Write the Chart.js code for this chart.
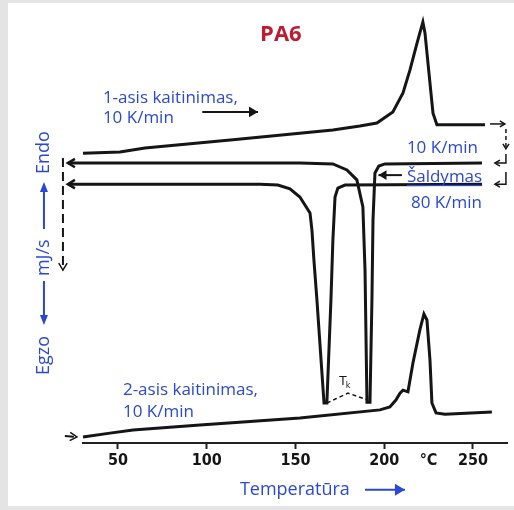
<!DOCTYPE html>
<html>
<head>
<meta charset="utf-8">
<script src="https://cdn.jsdelivr.net/npm/chart.js@4"></script>
<style>
  body { margin: 0; background: #e4e4e4; }
  #frame { position: absolute; left: 8px; top: 3px; width: 506px; height: 503px; background: #fff; }
  canvas { position: absolute; left: 0; top: 0; }
</style>
</head>
<body>
<div id="frame"></div>
<canvas id="dsc" width="514" height="510"></canvas>
<script>
// PA6 DSC run: temperature in °C, heat flow in arbitrary units (endo up)
const heat1T = [30.3, 51.1, 65.2, 114.8, 171.1, 186.3, 195.9, 204.9, 210.6, 214.5, 218.5, 221.8, 223.0, 225.8, 227.5, 229.7, 256.8];
const heat1V = [67.4, 67.7, 68.6, 70.5, 72.8, 73.7, 74.4, 77.0, 81.4, 86.7, 93.0, 97.9, 95.3, 83.7, 76.7, 74.0, 74.0];

// cooling runs are recorded from right to left
const cool10T = [255.1, 200.4, 197.0, 194.8, 193.7, 193.1, 192.0, 190.3, 189.2, 188.0, 184.6, 179.0, 171.1, 152.5, 21.8];
const cool10V = [65.1, 64.9, 64.4, 62.8, 51.9, 33.3, 9.5, 9.5, 40.2, 54.9, 61.2, 63.5, 64.9, 65.1, 65.1];

const cool80T = [255.1, 177.9, 173.9, 172.3, 171.1, 170.0, 167.7, 166.1, 162.1, 160.4, 159.3, 158.2, 152.5, 146.9, 140.1, 130.0, 21.8];
const cool80V = [60.2, 60.0, 59.3, 57.2, 47.2, 33.3, 9.3, 9.3, 33.3, 42.6, 49.5, 53.5, 57.2, 59.1, 60.0, 60.2, 60.2];

const heat2T = [30.3, 45.5, 58.5, 96.2, 152.5, 197.6, 203.2, 206.6, 208.9, 210.6, 213.4, 216.2, 220.1, 222.4, 224.1, 225.8, 226.9, 229.2, 234.2, 260.7];
const heat2V = [1.4, 2.3, 3.0, 4.2, 5.8, 7.7, 8.4, 10.0, 11.6, 12.3, 11.9, 18.6, 26.3, 30.0, 28.6, 19.3, 9.3, 7.0, 6.7, 7.2];

// crystallisation temperature construction (T_k)
const tkT = [167.7, 179.6, 190.8];
const tkV = [9.3, 11.6, 10.0];

const tickValues = [50, 100, 150, 200, 225, 250];

const ink = '#151515';
const blue = '#2a48d8';
const red = '#c01a30';

function pts(ts, vs) {
    return ts.map((t, i) => ({ x: t, y: vs[i] }));
}

function line(data, opts) {
    return Object.assign({
        data: data,
        showLine: true,
        borderColor: ink,
        backgroundColor: ink,
        borderWidth: 3,
        pointRadius: 0,
        tension: 0,
        clip: false
    }, opts || {});
}

const datasets = [
    line(pts(heat1T, heat1V)),
    line(pts(cool10T, cool10V), { arrow: 'open' }),
    line(pts(cool80T, cool80V), { arrow: 'open' }),
    line(pts(heat2T, heat2V)),
    line(pts(tkT, tkV), { borderWidth: 1.5, borderDash: [4, 3] }),
    // dashed return path on the left
    line([{ x: 19.0, y: 66.3 }, { x: 19.0, y: 40.2 }], { borderWidth: 2, borderDash: [9, 5], arrow: 'open' }),
    line([{ x: 19.0, y: 40.2 }, { x: 19.0, y: 3.0 }, { x: 20.1, y: 1.6 }, { x: 26.9, y: 1.4 }], { borderWidth: 2, borderDash: [9, 5], arrow: 'open' }),
    // connectors on the right
    line([{ x: 259.6, y: 74.2 }, { x: 268.0, y: 74.2 }], { borderWidth: 1.5, arrow: 'open', arrowSize: 5 }),
    line([{ x: 268.6, y: 73.0 }, { x: 268.6, y: 68.4 }], { borderWidth: 1.5, borderDash: [4, 3], arrow: 'open', arrowSize: 5 }),
    line([{ x: 268.6, y: 67.2 }, { x: 268.6, y: 65.1 }, { x: 262.4, y: 65.1 }], { borderWidth: 1.5, arrow: 'open', arrowSize: 5 }),
    line([{ x: 268.6, y: 63.0 }, { x: 268.6, y: 60.2 }, { x: 262.4, y: 60.2 }], { borderWidth: 1.5, arrow: 'open', arrowSize: 5 }),
    // pointer arrows next to the notes
    line([{ x: 97.5, y: 77.0 }, { x: 128.9, y: 77.0 }], { borderWidth: 2, arrow: 'filled', arrowSize: 9 }),
    line([{ x: 210.0, y: 62.3 }, { x: 196.8, y: 62.3 }], { borderWidth: 2, arrow: 'filled', arrowSize: 8 }),
    line([{ x: 189.2, y: -10.9 }, { x: 211.7, y: -10.9 }], { borderWidth: 2, borderColor: blue, backgroundColor: blue, arrow: 'filled', arrowSize: 10 })
];

const noteFont = '17px "Open Sans"';
const notes = [
    { text: 'PA6', t: 141.8, v: 94.9, color: red, font: 'bold 22px "Open Sans"', align: 'center' },
    { text: '1-asis kaitinimas,', t: 41.5, v: 80.2, color: blue, font: noteFont },
    { text: '10 K/min', t: 41.5, v: 75.6, color: blue, font: noteFont },
    { text: '10 K/min', t: 212.8, v: 68.6, color: blue, font: noteFont },
    { text: 'Šaldymas', t: 212.8, v: 61.9, color: blue, font: noteFont, underline: true },
    { text: '80 K/min', t: 215.1, v: 55.8, color: blue, font: noteFont },
    { text: '2-asis kaitinimas,', t: 52.8, v: 12.3, color: blue, font: noteFont },
    { text: '10 K/min', t: 52.8, v: 7.2, color: blue, font: noteFont },
    { text: 'Temperatūra', t: 118.7, v: -10.9, color: blue, font: '18px "Open Sans"' }
];

const arrowHeads = {
    id: 'arrowHeads',
    afterDatasetsDraw(chart) {
        const ctx = chart.ctx;
        chart.data.datasets.forEach((ds, i) => {
            if (!ds.arrow) return;
            const els = chart.getDatasetMeta(i).data;
            const a = els[els.length - 2], b = els[els.length - 1];
            const ang = Math.atan2(b.y - a.y, b.x - a.x);
            const len = ds.arrowSize || 7;
            ctx.save();
            ctx.translate(b.x, b.y);
            ctx.rotate(ang);
            ctx.strokeStyle = ds.borderColor;
            ctx.fillStyle = ds.borderColor;
            ctx.lineWidth = Math.max(1.5, ds.borderWidth - 0.5);
            ctx.setLineDash([]);
            ctx.beginPath();
            ctx.moveTo(-len, -len * 0.6);
            ctx.lineTo(0, 0);
            ctx.lineTo(-len, len * 0.6);
            if (ds.arrow === 'filled') {
                ctx.closePath();
                ctx.fill();
            } else {
                ctx.stroke();
            }
            ctx.restore();
        });
    }
};

const noteText = {
    id: 'noteText',
    afterDraw(chart) {
        const ctx = chart.ctx;
        const xs = chart.scales.x, ys = chart.scales.y;
        ctx.save();
        ctx.textBaseline = 'middle';
        notes.forEach(n => {
            const px = xs.getPixelForValue(n.t), py = ys.getPixelForValue(n.v);
            ctx.font = n.font;
            ctx.fillStyle = n.color;
            ctx.textAlign = n.align || 'left';
            ctx.fillText(n.text, px, py);
            if (n.underline) {
                const w = ctx.measureText(n.text).width;
                ctx.fillRect(px, py + 8, w, 1.3);
            }
        });

        // T_k marker
        const kx = xs.getPixelForValue(177.9), ky = ys.getPixelForValue(14.2);
        ctx.fillStyle = ink;
        ctx.textAlign = 'center';
        ctx.font = '12px "DejaVu Sans"';
        ctx.fillText('T', kx - 2, ky);
        ctx.font = '8px "DejaVu Sans"';
        ctx.fillText('k', kx + 3, ky + 4);

        // rotated y-axis caption: Egzo <- mJ/s -> Endo
        const ox = xs.getPixelForValue(8.3), oy = ys.getPixelForValue(15.8);
        ctx.translate(ox, oy);
        ctx.rotate(-Math.PI / 2);
        ctx.fillStyle = blue;
        ctx.strokeStyle = blue;
        ctx.font = '18px "Open Sans"';
        ctx.textAlign = 'left';
        ctx.fillText('Egzo', 0, 0);
        ctx.fillText('mJ/s', 99, 0);
        ctx.fillText('Endo', 201, 0);
        ctx.lineWidth = 2;
        ctx.beginPath();
        ctx.moveTo(58, 0); ctx.lineTo(94, 0);
        ctx.moveTo(146, 0); ctx.lineTo(184, 0);
        ctx.stroke();
        ctx.beginPath();
        ctx.moveTo(50, 0); ctx.lineTo(60, -4); ctx.lineTo(60, 4); ctx.closePath();
        ctx.moveTo(193, 0); ctx.lineTo(183, -4); ctx.lineTo(183, 4); ctx.closePath();
        ctx.fill();
        ctx.restore();
    }
};

new Chart(document.getElementById('dsc').getContext('2d'), {
    type: 'scatter',
    data: { datasets: datasets },
    options: {
        responsive: false,
        animation: false,
        layout: { padding: { left: 83, right: 7, top: 13, bottom: 0 } },
        scales: {
            x: {
                type: 'linear',
                min: 30.3,
                max: 269.2,
                afterFit: s => { s.height = 67; },
                afterBuildTicks: s => { s.ticks = tickValues.map(v => ({ value: v })); },
                ticks: {
                    autoSkip: false,
                    maxRotation: 0,
                    padding: 2,
                    color: ink,
                    font: { family: '"DejaVu Sans Condensed", "DejaVu Sans", sans-serif', size: 16, weight: 'bold' },
                    callback: v => v === 225 ? '°C' : v
                },
                grid: {
                    drawOnChartArea: false,
                    tickLength: 6,
                    tickWidth: 2,
                    tickColor: c => (c.tick && c.tick.value === 225) ? 'rgba(0,0,0,0)' : '#222'
                },
                border: { color: '#222', width: 2 }
            },
            y: { display: false, min: 0, max: 100 }
        },
        plugins: { legend: { display: false }, tooltip: { enabled: false } }
    },
    plugins: [arrowHeads, noteText]
});
</script>
</body>
</html>
